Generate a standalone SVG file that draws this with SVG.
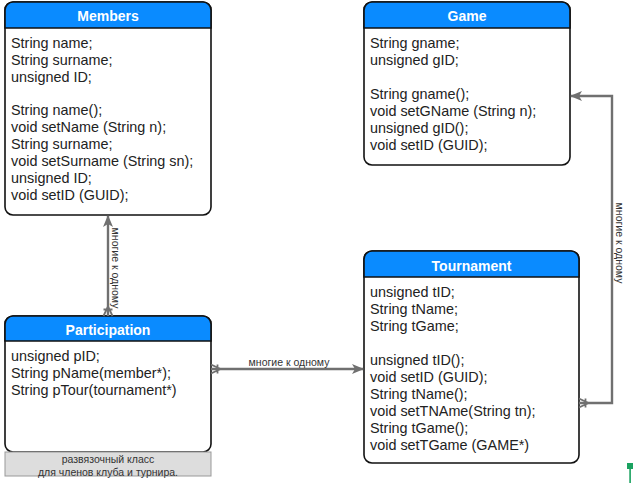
<svg xmlns="http://www.w3.org/2000/svg" width="634" height="488" viewBox="0 0 634 488">
<style>
.box{fill:#fff;stroke:#111;stroke-width:1.6}
.hdr{fill:#0a8bff;stroke:#111;stroke-width:1.6}
.ttl{font-family:"Liberation Sans",Arial,sans-serif;font-size:14px;font-weight:bold;fill:#fff;text-anchor:middle}
.txt{font-family:"Liberation Sans",Arial,sans-serif;font-size:14.4px;fill:#222}
.lbl{font-family:"Liberation Sans",Arial,sans-serif;font-size:10.5px;fill:#333;text-anchor:middle}
.ln{fill:none;stroke:#707070;stroke-width:2.4}
.foot{fill:#dddddd;stroke:#999;stroke-width:1}
</style>
<defs>
<marker id="arr" viewBox="0 0 12 12" refX="11" refY="6" markerWidth="12" markerHeight="12" markerUnits="userSpaceOnUse" orient="auto">
<path d="M0,1 L12,6 L0,11 L3,6 Z" fill="#707070"/>
</marker>
<marker id="crow" viewBox="0 0 12 12" refX="11.5" refY="6" markerWidth="12" markerHeight="12" markerUnits="userSpaceOnUse" orient="auto-start-reverse">
<path d="M2,6 L11.5,1.5 M2,6 L11.5,10.5 M5,1.5 L5,10.5" fill="none" stroke="#707070" stroke-width="1.8"/>
</marker>
</defs>

<g id="members">
<rect class="box" x="5" y="2" width="206" height="213" rx="8"/>
<path class="hdr" d="M5,28 L5,10 A8,8 0 0 1 13,2 L203,2 A8,8 0 0 1 211,10 L211,28 Z"/>
<text class="ttl" x="108" y="21">Members</text>
<text class="txt" x="11" y="48">String name;</text>
<text class="txt" x="11" y="65">String surname;</text>
<text class="txt" x="11" y="82">unsigned ID;</text>
<text class="txt" x="11" y="115">String name();</text>
<text class="txt" x="11" y="132">void setName (String n);</text>
<text class="txt" x="11" y="149">String surname;</text>
<text class="txt" x="11" y="166">void setSurname (String sn);</text>
<text class="txt" x="11" y="183">unsigned ID;</text>
<text class="txt" x="11" y="200">void setID (GUID);</text>
</g>

<g id="game">
<rect class="box" x="364" y="2" width="206" height="163" rx="8"/>
<path class="hdr" d="M364,28 L364,10 A8,8 0 0 1 372,2 L562,2 A8,8 0 0 1 570,10 L570,28 Z"/>
<text class="ttl" x="467" y="21">Game</text>
<text class="txt" x="370" y="48">String gname;</text>
<text class="txt" x="370" y="65">unsigned gID;</text>
<text class="txt" x="370" y="99">String gname();</text>
<text class="txt" x="370" y="116">void setGName (String n);</text>
<text class="txt" x="370" y="133">unsigned gID();</text>
<text class="txt" x="370" y="150">void setID (GUID);</text>
</g>

<g id="tournament">
<rect class="box" x="364" y="251" width="215" height="212" rx="8"/>
<path class="hdr" d="M364,277 L364,259 A8,8 0 0 1 372,251 L571,251 A8,8 0 0 1 579,259 L579,277 Z"/>
<text class="ttl" x="471.5" y="271">Tournament</text>
<text class="txt" x="370" y="297">unsigned tID;</text>
<text class="txt" x="370" y="314">String tName;</text>
<text class="txt" x="370" y="331">String tGame;</text>
<text class="txt" x="370" y="365">unsigned tID();</text>
<text class="txt" x="370" y="382">void setID (GUID);</text>
<text class="txt" x="370" y="399">String tName();</text>
<text class="txt" x="370" y="416">void setTNAme(String tn);</text>
<text class="txt" x="370" y="433">String tGame();</text>
<text class="txt" x="370" y="450">void setTGame (GAME*)</text>
</g>

<g id="participation">
<rect class="box" x="5" y="316" width="206" height="136" rx="8"/>
<path class="hdr" d="M5,341 L5,324 A8,8 0 0 1 13,316 L203,316 A8,8 0 0 1 211,324 L211,341 Z"/>
<text class="ttl" x="108" y="335">Participation</text>
<text class="txt" x="11" y="361">unsigned pID;</text>
<text class="txt" x="11" y="378">String pName(member*);</text>
<text class="txt" x="11" y="395">String pTour(tournament*)</text>
</g>

<g id="participation-note">
<rect class="foot" x="5" y="452" width="206" height="24"/>
<text class="lbl" x="108" y="463">развязочный класс</text>
<text class="lbl" x="108" y="475.5">для членов клуба и турнира.</text>
</g>

<g id="connectors">
<path class="ln" d="M108,316 L108,216" marker-start="url(#crow)" marker-end="url(#arr)"/>
<text class="lbl" transform="translate(116,268) rotate(90)" dy="0.35em">многие к одному</text>
<path class="ln" d="M211,369 L363,369" marker-start="url(#crow)" marker-end="url(#arr)"/>
<text class="lbl" x="289" y="366">многие к одному</text>
<path class="ln" d="M579,403 L612,403 L612,96 L571,96" marker-start="url(#crow)" marker-end="url(#arr)"/>
<text class="lbl" transform="translate(620,243) rotate(90)" dy="0.35em">многие к одному</text>
</g>

<g id="marker-green">
<rect x="627" y="463" width="6" height="6" fill="#1aa260"/>
<rect x="629.3" y="469" width="1.6" height="14" fill="#1aa260"/>
</g>
</svg>
